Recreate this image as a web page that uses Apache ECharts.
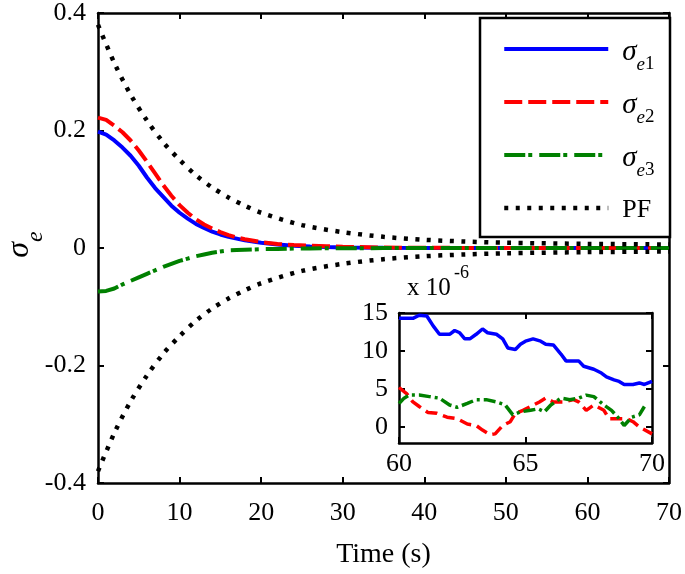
<!DOCTYPE html>
<html><head><meta charset="utf-8">
<script src="https://cdn.jsdelivr.net/npm/echarts@6/dist/echarts.min.js"></script>
<style>html,body{margin:0;padding:0;background:#fff}#c{width:685px;height:574px}</style>
</head><body><div id="c"></div>
<script>
// ---------- data ----------
const mainTime   = [0,1,2,3,4,5,6,7,8,9,10,11,12,13,14,15,16,17,18,20,22,24,26,28,30,35,40,50,60,70];
const sigma1Main = [0.198,0.193,0.183,0.171,0.157,0.140,0.120,0.102,0.087,0.072,0.060,0.050,0.041,0.034,0.028,0.023,0.019,0.016,0.013,0.009,0.006,0.004,0.0025,0.0015,0.001,0.0003,0.0001,0.00003,0.000014,0.000006];
const sigma2Main = [0.222,0.218,0.208,0.197,0.183,0.166,0.147,0.127,0.107,0.089,0.073,0.060,0.049,0.040,0.033,0.027,0.022,0.018,0.015,0.010,0.007,0.005,0.004,0.003,0.002,0.0008,0.0003,0.00005,0.000005,-0.000001];
const sigma3Main = [-0.074,-0.073,-0.069,-0.062,-0.056,-0.050,-0.044,-0.038,-0.032,-0.027,-0.022,-0.018,-0.014,-0.011,-0.008,-0.006,-0.004,-0.0035,-0.003,-0.002,-0.0015,-0.001,-0.0008,-0.0005,-0.0004,-0.0002,-0.0001,0.000003,0.000003,0.000003];
const pfTime  = [0,2,4,6,8,10,12,14,16,18,20,25,30,35,40,45,50,60,70];
const pfUpper = [0.380,0.315,0.261,0.217,0.180,0.150,0.124,0.103,0.086,0.072,0.060,0.039,0.027,0.019,0.014,0.011,0.009,0.007,0.006];
const pfLower = [-0.380,-0.315,-0.261,-0.217,-0.180,-0.150,-0.124,-0.103,-0.086,-0.072,-0.060,-0.039,-0.027,-0.019,-0.014,-0.011,-0.009,-0.007,-0.006];

// inset (units of 1e-6)
const insetBlue = [[60,14.3],[60.55,14.3],[60.8,14.7],[61.1,14.6],[61.35,13.3],[61.6,12.2],[62.0,12.2],[62.2,12.7],[62.4,12.4],[62.6,11.6],[62.8,11.6],[63.05,12.2],[63.3,12.9],[63.5,12.4],[63.85,12.2],[64.1,11.6],[64.3,10.4],[64.6,10.2],[64.8,10.9],[65.0,11.3],[65.3,11.6],[65.6,11.3],[65.8,10.9],[66.1,10.8],[66.4,9.6],[66.6,8.7],[66.9,8.7],[67.1,8.7],[67.3,8.0],[67.7,7.6],[68.0,7.1],[68.2,6.6],[68.5,6.2],[68.7,6.0],[68.9,5.6],[69.25,5.6],[69.5,5.8],[69.7,5.6],[70,6.0]];
const insetRed = [[60,5.2],[60.3,4.4],[60.55,3.3],[60.8,2.7],[61.15,1.9],[61.5,1.8],[61.9,1.3],[62.3,1.1],[62.7,0.4],[63.05,0.2],[63.3,-0.4],[63.6,-1.0],[63.8,-0.9],[64.1,0.2],[64.4,0.7],[64.6,1.8],[64.9,2.2],[65.2,2.7],[65.55,3.3],[65.8,3.8],[66.1,3.3],[66.5,3.3],[66.9,3.6],[67.1,3.3],[67.4,2.2],[67.7,2.9],[68.1,2.2],[68.3,1.1],[68.7,1.1],[69.0,1.1],[69.25,0.7],[69.5,0.0],[70,-0.9]];
const insetGreen = [[60,3.1],[60.2,3.8],[60.4,4.2],[60.8,4.2],[61.2,4.0],[61.6,3.8],[62.0,2.9],[62.3,2.6],[62.7,3.1],[63.05,3.6],[63.45,3.6],[63.85,3.3],[64.2,2.9],[64.5,1.6],[64.8,2.0],[65.2,2.2],[65.5,2.4],[65.75,2.0],[66.0,2.9],[66.4,3.8],[66.75,3.6],[67.1,3.8],[67.4,4.2],[67.7,4.0],[68.1,2.9],[68.4,2.2],[68.7,1.1],[68.9,0.2],[69.2,1.3],[69.5,1.6],[69.7,2.7]];

const insetYTicks = [0,5,10,15];
const legendNames = ['σe1','σe2','σe3','PF'];

// ---------- chart ----------
const FONT = 'Liberation Serif';
const zip = (xs, ys) => xs.map((x, i) => [x, ys[i]]);
const axisLine = {show:true, onZero:false, lineStyle:{color:'#000', width:2.5}};
const axisTick = {show:true, inside:true, length:6, lineStyle:{color:'#000', width:2}};
const lbl = (margin) => ({show:true, color:'#000', fontFamily:FONT, fontSize:26, margin:margin});
const noLbl = {show:false};

const sBlue  = {color:'#0000ff', width:4};
const sRed   = {color:'#ff0000', width:4, type:[18,6]};
const sGreen = {color:'#008000', width:4, type:[21,3,4,7]};
const sPF    = {color:'#000000', width:4.5, type:[4,7.5]};

const chart = echarts.init(document.getElementById('c'), null, {renderer:'canvas'});
chart.setOption({
  animation:false,
  backgroundColor:'#fff',
  textStyle:{fontFamily:FONT},
  grid:[
    {left:98, top:13, width:575, height:470},
    {left:399, top:313, width:253, height:130, show:true, backgroundColor:'#fff', borderWidth:0}
  ],
  xAxis:[
    {type:'value', gridIndex:0, position:'bottom', min:0, max:70, interval:10, axisLine:axisLine, axisTick:axisTick, axisLabel:lbl(17), splitLine:{show:false},
     name:'Time (s)', nameLocation:'middle', nameGap:58, nameTextStyle:{fontFamily:FONT, fontSize:28, color:'#000'}},
    {type:'value', gridIndex:0, position:'top', min:0, max:70, interval:10, axisLine:axisLine, axisTick:axisTick, axisLabel:noLbl, splitLine:{show:false}},
    {type:'value', gridIndex:1, position:'bottom', min:60, max:70, interval:5, axisLine:axisLine, axisTick:axisTick, axisLabel:lbl(8), splitLine:{show:false}},
    {type:'value', gridIndex:1, position:'top', min:60, max:70, interval:5, axisLine:axisLine, axisTick:axisTick, axisLabel:noLbl, splitLine:{show:false}}
  ],
  yAxis:[
    {type:'value', gridIndex:0, position:'left', min:-0.4, max:0.4, interval:0.2, axisLine:axisLine, axisTick:axisTick, axisLabel:lbl(12), splitLine:{show:false}},
    {type:'value', gridIndex:0, position:'right', min:-0.4, max:0.4, interval:0.2, axisLine:axisLine, axisTick:axisTick, axisLabel:noLbl, splitLine:{show:false}},
    {type:'value', gridIndex:1, position:'left', min:-2.1, max:15, axisLine:axisLine,
     axisTick:Object.assign({}, axisTick, {customValues:insetYTicks}),
     axisLabel:Object.assign(lbl(11), {customValues:insetYTicks}), splitLine:{show:false}},
    {type:'value', gridIndex:1, position:'right', min:-2.1, max:15, axisLine:axisLine,
     axisTick:Object.assign({}, axisTick, {customValues:insetYTicks}),
     axisLabel:{show:false, customValues:insetYTicks}, splitLine:{show:false}}
  ],
  legend:{
    data:legendNames, orient:'vertical', left:502, top:38, padding:0, itemGap:17,
    itemWidth:104, itemHeight:14, selectedMode:false, z:10,
    lineStyle:{width:'inherit'},
    itemStyle:{color:'rgba(0,0,0,0)', borderWidth:0, opacity:0},
    formatter:(n) => ({'σe1':'{s|σ}{e|e}{n|1}{z|\u200b}','σe2':'{s|σ}{e|e}{n|2}{z|\u200b}','σe3':'{s|σ}{e|e}{n|3}{z|\u200b}','PF':'{p|PF}{z|\u200b}'})[n],
    textStyle:{color:'#000', fontFamily:FONT, padding:[14,0,0,9],
      rich:{
        s:{fontFamily:FONT, fontStyle:'italic', fontSize:29, lineHeight:28, verticalAlign:'top', color:'#000'},
        e:{fontFamily:FONT, fontStyle:'italic', fontSize:19, lineHeight:19, verticalAlign:'bottom', color:'#000'},
        n:{fontFamily:FONT, fontSize:19, lineHeight:19, verticalAlign:'bottom', color:'#000'},
        p:{fontFamily:FONT, fontSize:26, lineHeight:26, verticalAlign:'top', color:'#000'},
        z:{fontFamily:FONT, fontSize:2, lineHeight:36, color:'#000'}
      }}
  },
  graphic:[
    {type:'rect', z:5, shape:{x:480, y:18, width:190, height:219}, style:{fill:'#fff', stroke:'#000', lineWidth:2.5}},
    {type:'text', x:25.5, y:244.5, rotation:Math.PI/2, z:5,
     style:{text:'{s|σ}{e|e}', align:'center', verticalAlign:'middle', textAlign:'center', textVerticalAlign:'middle',
       rich:{
         s:{fontFamily:FONT, fontStyle:'italic', fontSize:32, lineHeight:44, verticalAlign:'top', fill:'#000'},
         e:{fontFamily:FONT, fontStyle:'italic', fontSize:24, verticalAlign:'bottom', fill:'#000'}
       }}},
    {type:'text', x:407, y:288, z:5, style:{text:'x 10', font:'25px "Liberation Serif"', fill:'#000', align:'left', verticalAlign:'middle', textAlign:'left', textVerticalAlign:'middle'}},
    {type:'text', x:454, y:273, z:5, style:{text:'-6', font:'18px "Liberation Serif"', fill:'#000', align:'left', verticalAlign:'middle', textAlign:'left', textVerticalAlign:'middle'}}
  ],
  series:[
    {name:'σe1', type:'line', xAxisIndex:0, yAxisIndex:0, data:zip(mainTime, sigma1Main), symbol:'none', lineStyle:sBlue, itemStyle:{color:'#0000ff'}},
    {name:'σe2', type:'line', xAxisIndex:0, yAxisIndex:0, data:zip(mainTime, sigma2Main), symbol:'none', lineStyle:sRed, itemStyle:{color:'#ff0000'}},
    {name:'σe3', type:'line', xAxisIndex:0, yAxisIndex:0, data:zip(mainTime, sigma3Main), symbol:'none', lineStyle:sGreen, itemStyle:{color:'#008000'}},
    {name:'PF', type:'line', xAxisIndex:0, yAxisIndex:0, data:zip(pfTime, pfUpper), symbol:'none', smooth:0.3, lineStyle:sPF, itemStyle:{color:'#000'}},
    {name:'PF', type:'line', xAxisIndex:0, yAxisIndex:0, data:zip(pfTime, pfLower), symbol:'none', smooth:0.3, lineStyle:sPF, itemStyle:{color:'#000'}},
    {name:'inset1', type:'line', xAxisIndex:2, yAxisIndex:2, data:insetBlue, symbol:'none', lineStyle:{color:'#0000ff', width:3.5}, z:6},
    {name:'inset2', type:'line', xAxisIndex:2, yAxisIndex:2, data:insetRed, symbol:'none', lineStyle:{color:'#ff0000', width:3.5, type:[12,6]}, z:6},
    {name:'inset3', type:'line', xAxisIndex:2, yAxisIndex:2, data:insetGreen, symbol:'none', lineStyle:{color:'#008000', width:3.5, type:[12,4,3,4]}, z:6}
  ]
});
</script>
</body></html>
